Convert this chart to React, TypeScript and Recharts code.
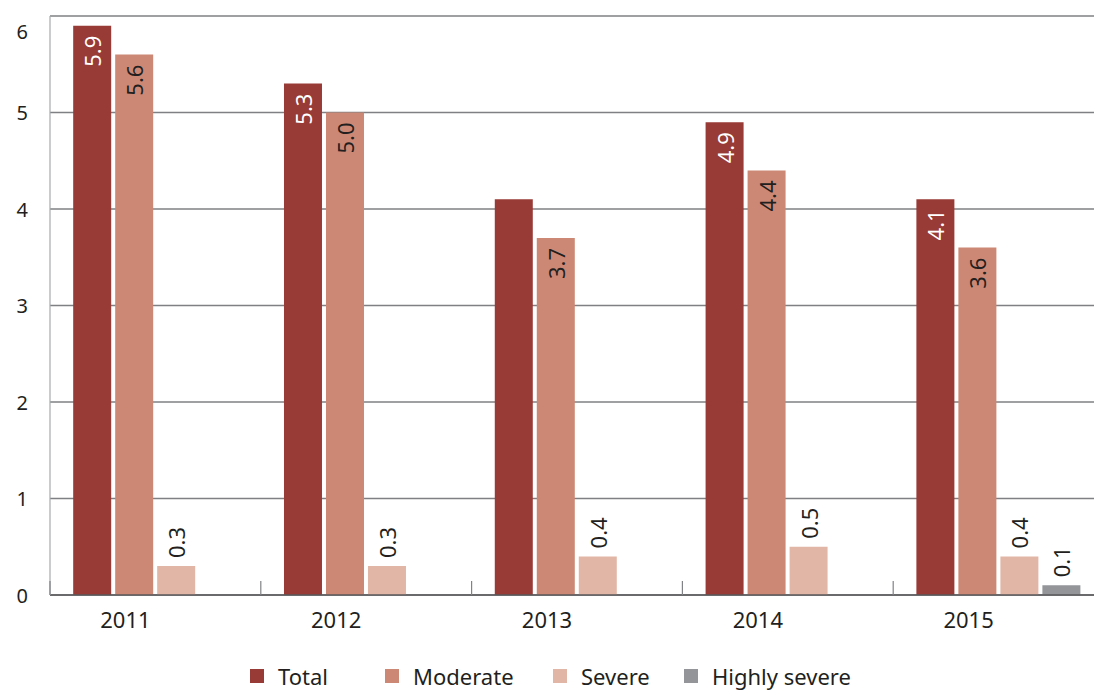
import React from 'react';
import {
  BarChart, Bar, XAxis, YAxis, CartesianGrid, Legend, LabelList,
} from 'recharts';

const years = ['2011', '2012', '2013', '2014', '2015'];
const total = [5.9, 5.3, 4.1, 4.9, 4.1];
const moderate = [5.6, 5.0, 3.7, 4.4, 3.6];
const severe = [0.3, 0.3, 0.4, 0.5, 0.4];
const highlySevere = [null, null, null, null, 0.1];
const totalLabelShown = [true, true, false, true, true];
const yTicks = [0, 1, 2, 3, 4, 5, 6];

const seriesKeys = ['total', 'moderate', 'severe', 'highlySevere'];
const seriesNames = ['Total', 'Moderate', 'Severe', 'Highly severe'];
const seriesColors = ['#983a35', '#cd8875', '#e2b6a6', '#939598'];

const data = years.map((year, i) => ({
  year,
  total: total[i],
  moderate: moderate[i],
  severe: severe[i],
  highlySevere: highlySevere[i],
}));

const TEXT = '#231f20';
const FONT = '"Noto Sans", sans-serif';

const legendWidths = [135, 168, 131, 240];

function makeLabel(insideColor: string, shown?: boolean[]) {
  return (props: any) => {
    const { x, y, width, height, value, index } = props;
    if (value == null) return null;
    if (shown && shown[index] === false) return null;
    const cx = Number(x) + Number(width) / 2;
    const top = Number(y);
    const inside = Number(height) > 60;
    const ty = inside ? top + 10 : top - 8;
    return (
      <text
        x={cx}
        y={ty}
        transform={`rotate(-90 ${cx} ${ty})`}
        textAnchor={inside ? 'end' : 'start'}
        dominantBaseline="central"
        fontSize={22}
        fontFamily={FONT}
        fill={inside ? insideColor : TEXT}
      >
        {Number(value).toFixed(1)}
      </text>
    );
  };
}

const XTick = (props: any) => {
  const { x, y, payload } = props;
  const half = payload?.offset || 105.4;
  const axisY = y - 17;
  return (
    <g>
      <text x={x - 30} y={y} dy="0.71em" textAnchor="middle" fontSize={22}
        fontFamily={FONT} fill={TEXT}>
        {payload.value}
      </text>
      <line x1={x - half} x2={x - half} y1={axisY - 14} y2={axisY}
        stroke="#808285" strokeWidth={1.2} />
    </g>
  );
};

const YTick = (props: any) => {
  const { x, y, payload } = props;
  return (
    <text x={x} y={y + (payload.value === 6 ? 15 : 0)} textAnchor="end"
      dominantBaseline="central" fontSize={20} fontFamily={FONT} fill={TEXT}>
      {payload.value}
    </text>
  );
};

const LegendContent = () => (
  <div style={{
    display: 'flex', alignItems: 'center', paddingLeft: 250, paddingTop: 26,
    height: 56, boxSizing: 'border-box', fontFamily: FONT, whiteSpace: 'nowrap',
  }}>
    {seriesNames.map((name, i) => (
      <div key={name} style={{ display: 'flex', alignItems: 'center', width: legendWidths[i], flex: 'none' }}>
        <span style={{ width: 14, height: 14, background: seriesColors[i], marginRight: 14, display: 'inline-block', flex: 'none' }} />
        <span style={{ fontSize: 22, color: TEXT, lineHeight: '26px' }}>{name}</span>
      </div>
    ))}
  </div>
);

export default function App() {
  return (
    <div style={{
      position: 'absolute', left: 0, top: 0, width: 1094, height: 691,
      overflow: 'hidden', background: '#fff', fontFamily: FONT,
    }}>
      <BarChart
        width={1104}
        height={691}
        data={data}
        margin={{ top: 16, right: 0, left: 0, bottom: 0 }}
        barCategoryGap="11%"
        barGap={4}
      >
        <CartesianGrid horizontal vertical={false} stroke="#7f8083" strokeWidth={1.5} />
        <XAxis
          dataKey="year"
          height={40}
          tickLine={false}
          tickSize={0}
          tickMargin={17}
          axisLine={{ stroke: '#58595b', strokeWidth: 1.5 }}
          tick={<XTick />}
          interval={0}
        />
        <YAxis
          width={50}
          domain={[0, 6]}
          ticks={yTicks}
          tickLine={false}
          tickSize={0}
          tickMargin={22}
          axisLine={{ stroke: '#a7a9ac', strokeWidth: 1.2 }}
          tick={<YTick />}
        />
        <Legend verticalAlign="bottom" content={<LegendContent />} />
        {seriesKeys.map((key, i) => (
          <Bar key={key} dataKey={key} name={seriesNames[i]} fill={seriesColors[i]} isAnimationActive={false}>
            <LabelList
              dataKey={key}
              content={i === 0 ? makeLabel('#ffffff', totalLabelShown) : makeLabel(TEXT)}
            />
          </Bar>
        ))}
      </BarChart>
    </div>
  );
}
